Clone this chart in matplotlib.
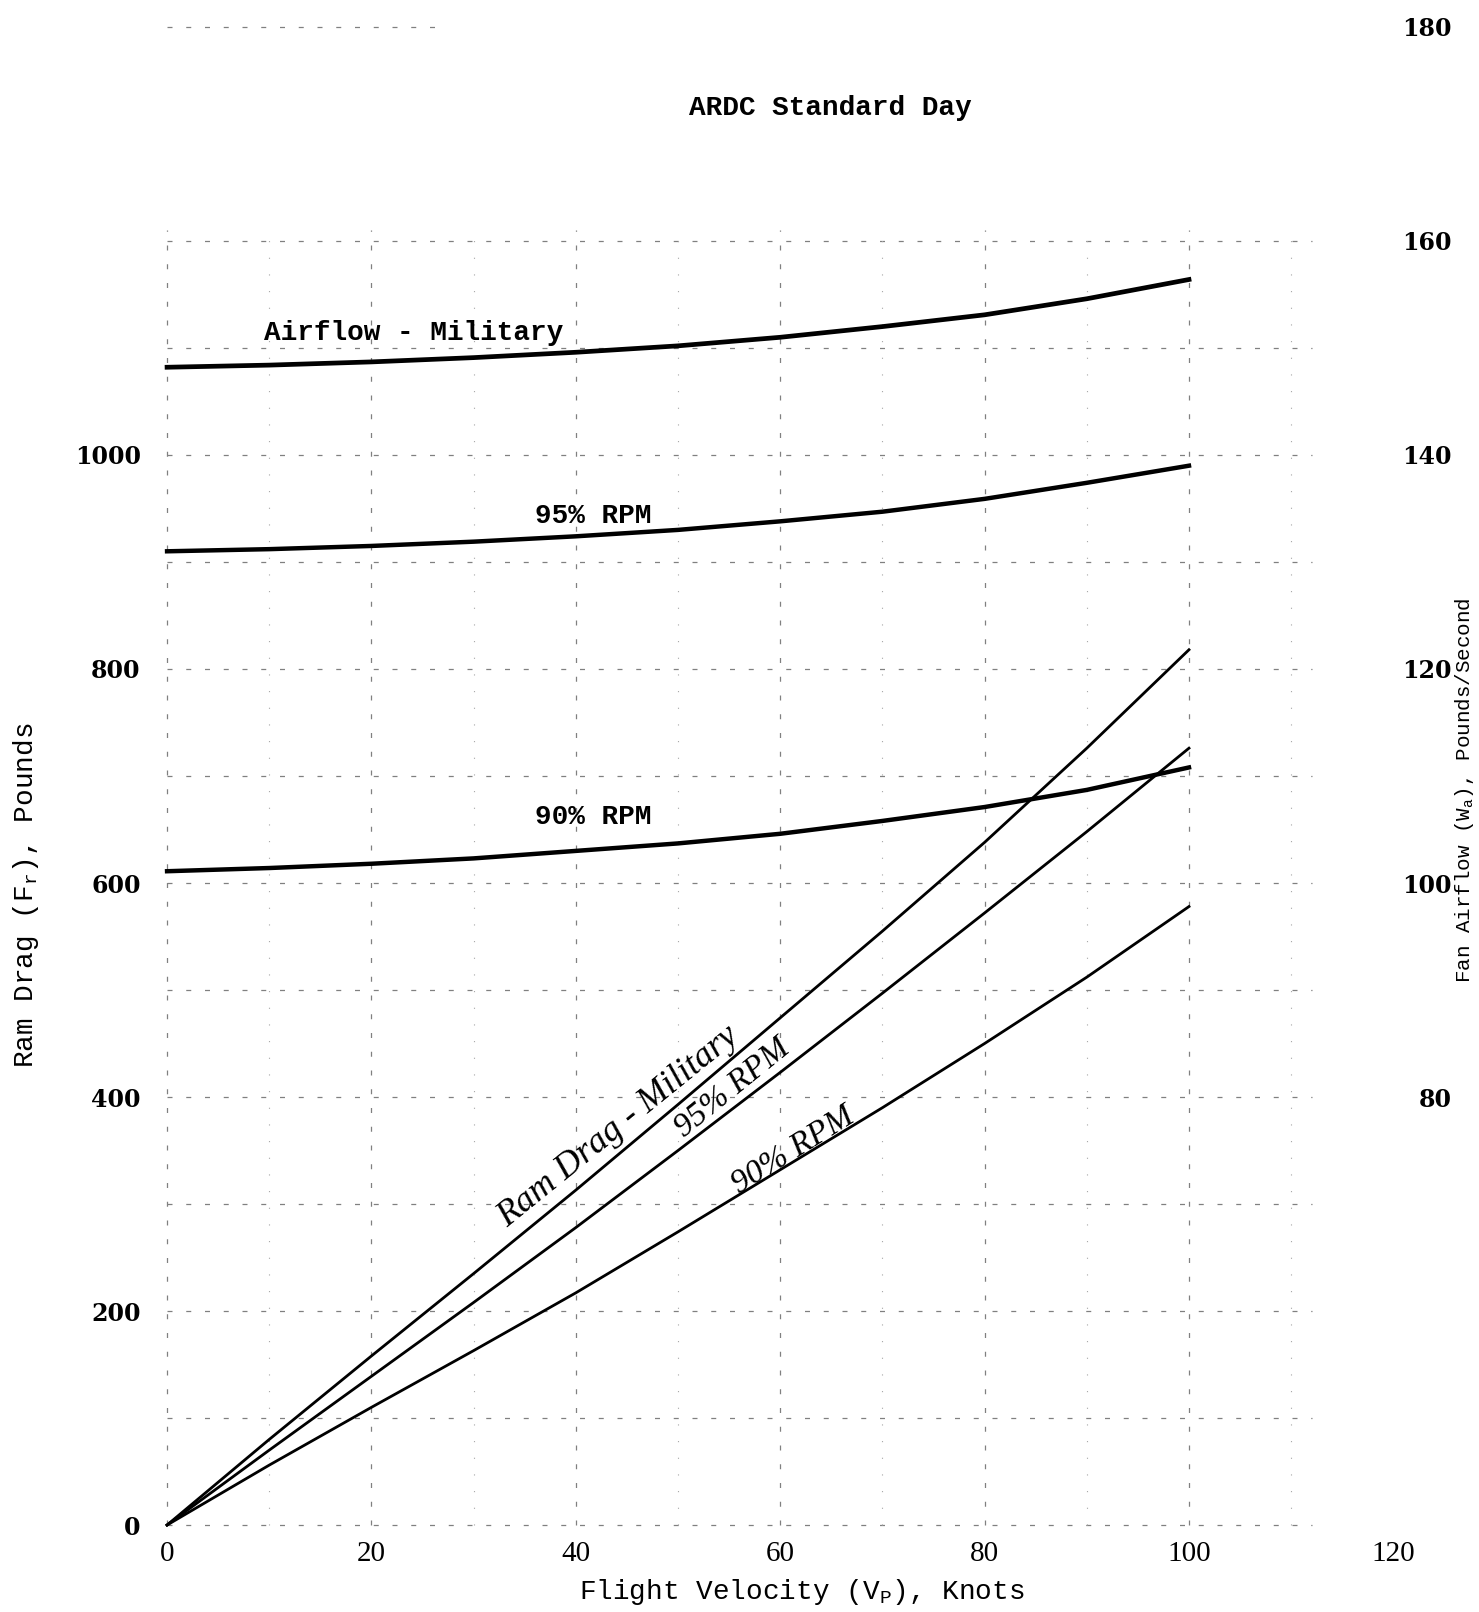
import matplotlib
matplotlib.use("Agg")
import matplotlib.pyplot as plt

#   values (knots, pounds, pounds/second)

knots = [0, 10, 20, 30, 40, 50, 60, 70, 80, 90, 100]

airflow_mil = [148.2, 148.4, 148.7, 149.1, 149.6, 150.2, 151.0, 152.0, 153.1, 154.6, 156.4]
airflow_95 = [131.0, 131.2, 131.5, 131.9, 132.4, 133.0, 133.8, 134.7, 135.9, 137.4, 139.0]
airflow_90 = [101.1, 101.4, 101.8, 102.3, 103.0, 103.7, 104.6, 105.8, 107.1, 108.7, 110.8]

ram_mil = [0, 80, 158, 235, 313, 393, 474, 555, 638, 726, 818]
ram_95 = [0, 70, 139, 208, 278, 350, 423, 497, 572, 648, 726]
ram_90 = [0, 56, 110, 163, 217, 274, 332, 390, 450, 512, 578]

x_ticks = [0, 20, 40, 60, 80, 100, 120]
left_ticks = [0, 200, 400, 600, 800, 1000]
right_ticks = [80, 100, 120, 140, 160, 180]
h_grid = [0, 100, 200, 300, 400, 500, 600, 700, 800, 900, 1000, 1100, 1200]
v_grid = [0, 20, 40, 60, 80, 100]
v_grid_minor = [10, 30, 50, 70, 90, 110]

mono = "Liberation Mono"
serif = "Liberation Serif"
num_font = "DejaVu Serif"

fig = plt.figure(figsize=(14.79, 16.12), dpi=100)
ax = fig.add_axes([0.1026, 0.0440, 0.8395, 0.9459])
ax.set_xlim(-1.5, 120)
ax.set_ylim(-15, 1410)

#   scanned-looking grid, sparse and faint

ax.hlines(h_grid, 0, 112, colors="0.5", linestyles=(0, (4, 11)), linewidth=0.9, zorder=1)
ax.hlines([1400], 0, 27, colors="0.5", linestyles=(0, (4, 11)), linewidth=0.9, zorder=1)
ax.vlines(v_grid, 0, 1210, colors="0.5", linestyles=(0, (4, 11)), linewidth=0.9, zorder=1)
ax.vlines(v_grid_minor, 0, 1210, colors="0.65", linestyles=(0, (1, 14)), linewidth=0.8, zorder=1)

#   ram drag lines (left axis)

ax.plot(knots, ram_mil, color="black", linewidth=2.0, zorder=3)
ax.plot(knots, ram_95, color="black", linewidth=2.0, zorder=3)
ax.plot(knots, ram_90, color="black", linewidth=2.0, zorder=3)

for s in ax.spines.values():
    s.set_visible(False)
ax.set_xticks(x_ticks)
ax.set_xticklabels([str(t) for t in x_ticks], fontfamily=serif, fontsize=21)
ax.set_yticks(left_ticks)
ax.set_yticklabels([str(t) for t in left_ticks], fontfamily=num_font, fontsize=17, fontweight="bold")
ax.tick_params(axis="x", length=0, pad=0)
ax.tick_params(axis="y", length=0, pad=8)

#   airflow curves (right axis)

ax2 = ax.twinx()
ax2.set_ylim(-15 / 10 + 40, 1410 / 10 + 40)
ax2.plot(knots, airflow_mil, color="black", linewidth=3.4, zorder=3)
ax2.plot(knots, airflow_95, color="black", linewidth=3.2, zorder=3)
ax2.plot(knots, airflow_90, color="black", linewidth=3.2, zorder=3)
for s in ax2.spines.values():
    s.set_visible(False)
ax2.set_yticks(right_ticks)
ax2.set_yticklabels([str(t) for t in right_ticks], fontfamily=num_font, fontsize=17,
                    fontweight="bold", ha="right")
ax2.tick_params(axis="y", length=0, pad=42)

#   curve labels

ax.text(24.1, 1114, "Airflow - Military", fontfamily=mono, fontsize=20, fontweight="bold",
        ha="center", va="center")
ax.text(41.7, 943, "95% RPM", fontfamily=mono, fontsize=20, fontweight="bold",
        ha="center", va="center")
ax.text(41.7, 662, "90% RPM", fontfamily=mono, fontsize=20, fontweight="bold",
        ha="center", va="center")
ax.text(44.2, 372, "Ram Drag - Military", fontfamily=serif, fontsize=26, style="italic",
        rotation=39, ha="center", va="center", rotation_mode="anchor")
ax.text(55.3, 408, "95% RPM", fontfamily=serif, fontsize=24, style="italic",
        rotation=39, ha="center", va="center", rotation_mode="anchor")
ax.text(61.3, 350, "90% RPM", fontfamily=serif, fontsize=24, style="italic",
        rotation=32, ha="center", va="center", rotation_mode="anchor")

#   titles and axis labels

fig.text(830 / 1479, 1 - 108 / 1612, "ARDC Standard Day", fontfamily=mono, fontsize=20,
         fontweight="bold", ha="center", va="center")
fig.text(802 / 1479, 1 - 1592 / 1612, "Flight Velocity (V$_\\mathregular{P}$), Knots",
         fontfamily=mono, fontsize=20, ha="center", va="center")
fig.text(26 / 1479, 1 - 895 / 1612, "Ram Drag (F$_\\mathregular{r}$), Pounds",
         fontfamily=mono, fontsize=20, rotation=90, ha="center", va="center")
fig.text(1465 / 1479, 1 - 790 / 1612, "Fan Airflow (W$_\\mathregular{a}$), Pounds/Second",
         fontfamily=mono, fontsize=15, rotation=90, ha="center", va="center")

fig.savefig("out.png", dpi=100)
